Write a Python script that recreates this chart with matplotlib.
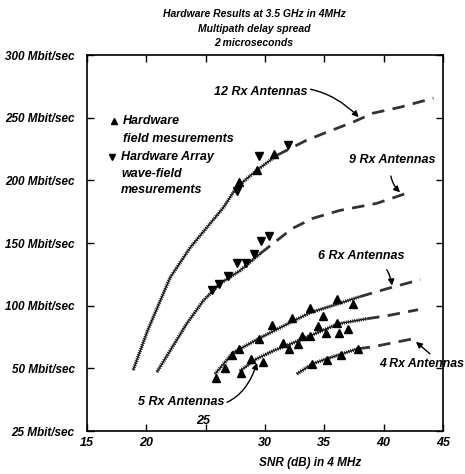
import numpy as np
import matplotlib.pyplot as plt

plt.rcParams['font.family'] = ['Liberation Sans', 'DejaVu Sans']
plt.rcParams['font.weight'] = 'bold'
plt.rcParams['font.style'] = 'italic'

# curve points (SNR dB, Mbit/sec)
snr_12 = [18.9, 20.1, 22.0, 23.7, 25.1, 26.5, 27.6, 29.3, 31.0, 33.5, 35.2, 37.4, 39.1, 41.4, 44.2]
rate_12 = [48.8, 80, 122.4, 146.4, 162.4, 178.4, 194.4, 208, 220, 232, 238.4, 246.4, 253.6, 258.4, 265.6]
snr_9 = [20.9, 22.0, 23.4, 24.8, 26.2, 27.9, 29.6, 32.3, 34.0, 36.3, 39.4, 42.4]
rate_9 = [47.2, 64, 85.6, 104, 117.6, 128, 141.6, 161.6, 169.6, 176, 181.6, 191.2]
snr_6 = [25.8, 27.3, 29.6, 32.1, 33.8, 36.2, 38.0, 40.3, 43.1]
rate_6 = [45.6, 62.4, 74.4, 86.4, 94.4, 101.6, 107.2, 113.6, 120.8]
snr_5 = [27.9, 29.3, 30.7, 32.4, 33.8, 36.2, 38.6, 40.3, 42.9]
rate_5 = [48, 57.6, 64, 70.4, 76, 85.6, 89.6, 92, 96.8]
snr_4 = [32.7, 34.0, 35.2, 36.5, 37.8, 39.1, 41.2, 42.5]
rate_4 = [45.6, 53.6, 57.6, 61.6, 65.6, 67.2, 71.2, 73.6]

# index where each curve turns from measured (hatched) to extrapolated (dashed)
split_12, split_9, split_6, split_5, split_4 = 8, 6, 6, 6, 4

# hardware field measurements (up triangles)
field_snr = [27.8, 29.3, 30.8,
             25.9, 26.6, 27.2, 27.8, 28.8, 28.0, 29.5, 29.8, 30.6, 31.5, 32.0,
             32.3, 32.8, 33.1, 33.8, 33.8, 34.5, 34.9, 35.1, 36.1, 36.1, 36.2, 37.0, 37.4,
             34.0, 35.2, 36.4, 37.8]
field_rate = [198.4, 208, 220.8,
              42.4, 50.4, 60.8, 65.6, 57.6, 46.4, 73.6, 55.2, 84.8, 70.4, 65.6,
              90.4, 69.6, 76, 98.4, 76, 84, 92, 78.4, 105.6, 86.4, 78.4, 81.6, 101.6,
              53.6, 56.8, 60.8, 65.6]
# hardware array wave-field measurements (down triangles)
array_snr = [27.6, 29.5, 31.9,
             25.5, 26.1, 26.9, 27.6, 28.4, 29.1, 29.7, 30.3]
array_rate = [191.2, 219.2, 228,
              112.8, 117.6, 124, 134.4, 134.4, 141.6, 152, 156]

y_ticks = [0, 50, 100, 150, 200, 250, 300]
y_labels = ['25 Mbit/sec', '50 Mbit/sec', '100 Mbit/sec', '150 Mbit/sec',
            '200 Mbit/sec', '250 Mbit/sec', '300 Mbit/sec']
x_ticks = [15, 20, 25, 30, 35, 40, 45]
x_labels = ['15', '20', '', '30', '35', '40', '45']

fig = plt.figure(figsize=(4.65, 4.74), dpi=100)
ax = fig.add_axes([0.1871, 0.0907, 0.7656, 0.7932])

hatch = (0, (0.3, 0.3))
dash = (0, (4.5, 3))
for xs, ys, k in [(snr_12, rate_12, split_12), (snr_9, rate_9, split_9),
                  (snr_6, rate_6, split_6), (snr_5, rate_5, split_5),
                  (snr_4, rate_4, split_4)]:
    ax.plot(xs[:k + 1], ys[:k + 1], color='black', lw=0.9)
    ax.plot(xs[:k + 1], ys[:k + 1], color='#222222', lw=2.6, ls=hatch)
    ax.plot(xs[k:], ys[k:], color='#333333', lw=2.0, ls=dash)

ax.plot(field_snr, field_rate, '^', color='black', ms=5.5, ls='none')
ax.plot(array_snr, array_rate, 'v', color='black', ms=5.5, ls='none')

ax.set_xlim(15, 45)
ax.set_ylim(0, 300)
ax.set_xticks(x_ticks)
ax.set_xticklabels(x_labels, fontsize=9)
ax.set_yticks(y_ticks)
ax.set_yticklabels(y_labels, fontsize=8.5)
ax.tick_params(direction='in', length=5, width=1, top=True, right=True)
ax.tick_params(axis='y', pad=9)
ax.tick_params(axis='x', pad=4)
for s in ax.spines.values():
    s.set_linewidth(1.2)

# legend drawn by hand like the original
ax.plot([17.28], [247.2], '^', color='black', ms=4.5)
ax.text(18.03, 247.2, 'Hardware', fontsize=9, va='center')
ax.text(18.03, 232.8, 'field mesurements', fontsize=9, va='center')
ax.plot([17.1], [218.4], 'v', color='black', ms=4.5)
ax.text(17.87, 218.4, 'Hardware Array', fontsize=9, va='center')
ax.text(17.87, 204.8, 'wave-field', fontsize=9, va='center')
ax.text(17.87, 192.0, 'mesurements', fontsize=9, va='center')

arrow = dict(arrowstyle='-|>', color='black', lw=1, mutation_scale=9)
ax.annotate('12 Rx Antennas', xy=(37.9, 250.4), xytext=(29.66, 270.4),
            fontsize=9, ha='center', va='center',
            arrowprops=dict(arrow, connectionstyle='arc3,rad=-0.3',
                            shrinkA=42, shrinkB=0))
ax.annotate('9 Rx Antennas', xy=(41.38, 190.4), xytext=(40.7, 216),
            fontsize=9, ha='center', va='center',
            arrowprops=dict(arrow, connectionstyle='arc3,rad=0.3',
                            shrinkA=5, shrinkB=0))
ax.annotate('6 Rx Antennas', xy=(40.7, 116), xytext=(38.09, 140),
            fontsize=9, ha='center', va='center',
            arrowprops=dict(arrow, connectionstyle='arc3,rad=-0.4',
                            shrinkA=5, shrinkB=0))
ax.annotate('5 Rx Antennas', xy=(29.33, 54.4), xytext=(22.92, 23.2),
            fontsize=9, ha='center', va='center',
            arrowprops=dict(arrow, connectionstyle='arc3,rad=0.5',
                            shrinkA=45, shrinkB=0))
ax.text(43.2, 53.6, '4 Rx Antennas', fontsize=8.8, ha='center', va='center',
        clip_on=False)
ax.annotate('', xy=(42.72, 71.2), xytext=(43.9, 61.6),
            arrowprops=dict(arrow, shrinkA=0, shrinkB=0))
ax.text(24.78, 8, '25', fontsize=9, ha='center', va='center')

fig.text(254 / 465, 1 - 14 / 474, 'Hardware Results at 3.5 GHz in 4MHz',
         fontsize=7.5, ha='center', va='center')
fig.text(254 / 465, 1 - 28.5 / 474, 'Multipath delay spread',
         fontsize=7.5, ha='center', va='center')
fig.text(254 / 465, 1 - 43 / 474, '2 microseconds',
         fontsize=7.5, ha='center', va='center')
fig.text(310 / 465, 1 - 463 / 474, 'SNR (dB) in 4 MHz',
         fontsize=8.5, ha='center', va='center')

fig.savefig('out.png', dpi=100)
